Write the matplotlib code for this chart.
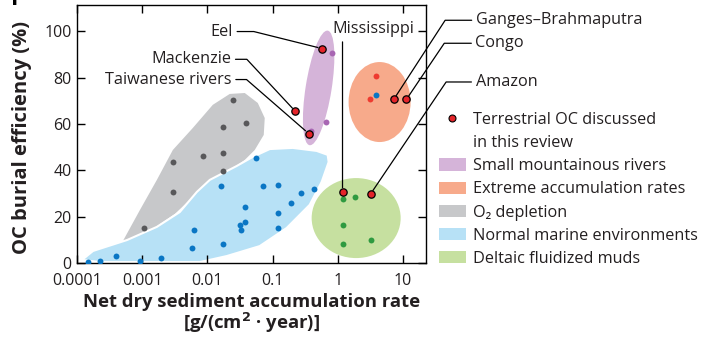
import numpy as np
import matplotlib.pyplot as plt
from matplotlib.patches import Ellipse, Patch, Polygon
from matplotlib.lines import Line2D
from matplotlib.transforms import ScaledTranslation

plt.rcParams['font.family'] = ['Open Sans', 'DejaVu Sans']

# --- data ---
# O2 depletion sites
o2_x = [0.0245, 0.0172, 0.0387, 0.0085, 0.0172, 0.00295, 0.0172, 0.00295, 0.00106]
o2_y = [70.4, 58.7, 60.5, 46.2, 47.5, 43.6, 39.7, 30.7, 15.1]

# normal marine environments
marine_x = [0.000149, 0.000225, 0.00039, 0.00092, 0.00191, 0.00583, 0.00612, 0.0174,
            0.0162, 0.0374, 0.0313, 0.0333, 0.0376, 0.0565, 0.0705, 0.1227, 0.1227,
            0.1227, 0.191, 0.269, 0.425, 3.89]
marine_y = [0.4, 1.0, 3.2, 1.0, 2.3, 6.5, 14.3, 8.3, 33.4, 24.1, 16.4, 14.3, 17.8,
            45.5, 33.3, 33.6, 21.7, 15.1, 25.8, 30.4, 32.1, 72.7]

# deltaic fluidized muds
delta_x = [1.18, 1.83, 1.18, 1.2, 3.18]
delta_y = [27.5, 28.4, 16.4, 8.2, 9.8]

# small mountainous rivers
smr_x = [0.81, 0.65, 0.393]
smr_y = [90.6, 61.0, 57.0]

# extreme accumulation rates
extreme_x = [3.89, 3.07]
extreme_y = [80.9, 70.7]

# terrestrial OC discussed in this review
terr_names = ['Eel', 'Mackenzie', 'Taiwanese rivers', 'Mississippi',
              'Ganges–Brahmaputra', 'Congo', 'Amazon']
terr_x = [0.571, 0.223, 0.357, 1.18, 7.23, 11.3, 3.18]
terr_y = [92.6, 65.5, 55.9, 30.7, 70.7, 70.7, 29.8]

# outlines of the shaded fields
o2_field_x = [0.000506, 0.000923, 0.00168, 0.00295, 0.00597, 0.0121, 0.0220, 0.0374,
              0.0592, 0.0757, 0.0731, 0.0532, 0.0374, 0.0205, 0.00912, 0.00597,
              0.00317, 0.00131]
o2_field_y = [9.5, 22.9, 35.9, 48.8, 58.3, 68.3, 73.0, 73.4, 69.1, 62.6, 55.3, 48.8,
              44.5, 39.3, 33.3, 28.5, 21.2, 13.8]

marine_field_x = [0.000119, 0.000225, 0.00131, 0.00766, 0.0198, 0.0634, 0.164, 0.370,
                  0.565, 0.723, 0.698, 0.473, 0.203, 0.0904, 0.0495, 0.0282, 0.0109,
                  0.00689, 0.00377, 0.00168, 0.000583, 0.000176]
marine_field_y = [1.3, 0.4, 0.4, 0.4, 3.0, 7.3, 15.1, 25.1, 35.0, 43.6, 46.7, 48.4,
                  49.7, 49.2, 45.8, 41.9, 35.9, 30.7, 22.0, 15.6, 9.9, 5.2]

# ellipse centres (x, y)
smr_center = (0.508, 75.6)
extreme_center = (4.37, 69.5)
delta_center = (1.91, 19.4)

x_ticks = [0.0001, 0.001, 0.01, 0.1, 1, 10]
x_ticklabels = ['0.0001', '0.001', '0.01', '0.1', '1', '10']
y_ticks = [0, 20, 40, 60, 80, 100]

legend_labels = ['Terrestrial OC discussed', 'in this review', 'Small mountainous rivers',
                 'Extreme accumulation rates', 'O₂ depletion',
                 'Normal marine environments', 'Deltaic fluidized muds']

# --- styles ---
c_smr, c_smr_dot = '#d5b4d9', '#a866b3'
c_ext, c_ext_dot = '#f7aa8b', '#ee3b30'
c_o2, c_o2_dot = '#c7c8ca', '#58585a'
c_mar, c_mar_dot = '#b7e1f6', '#0a76c4'
c_del, c_del_dot = '#c6e0a0', '#2f9a40'
c_red = '#e4242a'
txt = '#231f20'
fs = 11.7

fig = plt.figure(figsize=(7.16, 3.38), dpi=100)
ax = fig.add_axes([77 / 716, 75 / 338, 349 / 716, 258 / 338])
ax.set_xscale('log')
ax.set_xlim(1e-4, 22.5)
ax.set_ylim(0, 111.4)


def ellipse(center, w_in, h_in, angle, color):
    # size in inches on the page, centre in data coordinates
    tr = fig.dpi_scale_trans + ScaledTranslation(center[0], center[1], ax.transData)
    ax.add_patch(Ellipse((0, 0), w_in, h_in, angle=angle, transform=tr,
                         facecolor=color, edgecolor='none', zorder=1))


ax.add_patch(Polygon(np.column_stack([o2_field_x, o2_field_y]), closed=True,
                     facecolor=c_o2, edgecolor='none', joinstyle='round', zorder=1))
ax.add_patch(Polygon(np.column_stack([marine_field_x, marine_field_y]), closed=True,
                     facecolor=c_mar, edgecolor='white', linewidth=1.5,
                     joinstyle='round', zorder=1.1))
ellipse(smr_center, 0.26, 1.16, -9, c_smr)
ellipse(extreme_center, 0.62, 0.80, 0, c_ext)
ellipse(delta_center, 0.89, 0.80, 0, c_del)

ds = 18
ax.scatter(o2_x, o2_y, s=ds, color=c_o2_dot, linewidths=0, zorder=3)
ax.scatter(marine_x, marine_y, s=ds, color=c_mar_dot, linewidths=0, zorder=3)
ax.scatter(delta_x, delta_y, s=ds, color=c_del_dot, linewidths=0, zorder=3)
ax.scatter(smr_x, smr_y, s=ds, color=c_smr_dot, linewidths=0, zorder=3)
ax.scatter(extreme_x, extreme_y, s=ds, color=c_ext_dot, linewidths=0, zorder=3)
ax.scatter(terr_x, terr_y, s=28, color=c_red, edgecolors='black', linewidths=0.9, zorder=4)

# leader labels: offset in pixels, text alignment, slope of the diagonal part
label_style = {
    'Eel': ((-89, 17), 'right', -14),
    'Mackenzie': ((-64, 52), 'right', -47),
    'Taiwanese rivers': ((-77, 54), 'right', -41),
    'Ganges–Brahmaputra': ((82, 79), 'left', 57),
    'Congo': ((69, 56), 'left', 56),
    'Amazon': ((105, 112), 'left', 56),
}
for name, px, py in zip(terr_names, terr_x, terr_y):
    if name == 'Mississippi':
        ax.annotate('', xy=(px, py), xytext=(0, 150), textcoords='offset pixels',
                    arrowprops=dict(arrowstyle='-', color='black', lw=0.9,
                                    shrinkA=0, shrinkB=3), zorder=2)
        ax.annotate(name, xy=(px, py), xytext=(31, 163), textcoords='offset pixels',
                    ha='center', va='center', fontsize=fs, color=txt,
                    annotation_clip=False)
        continue
    off, ha, ang = label_style[name]
    ax.annotate(name, xy=(px, py), xytext=off, textcoords='offset pixels',
                ha=ha, va='center', fontsize=fs, color=txt,
                annotation_clip=False, zorder=2,
                arrowprops=dict(arrowstyle='-', color='black', lw=0.9,
                                shrinkA=1, shrinkB=3,
                                connectionstyle=f'angle,angleA=0,angleB={ang},rad=0'))

ax.set_xticks(x_ticks)
ax.set_xticklabels(x_ticklabels)
ax.set_yticks(y_ticks)
ax.minorticks_off()
ax.tick_params(direction='in', length=6, width=1, top=True, right=True,
               labelsize=11.5, labelcolor=txt)
ax.tick_params(axis='x', pad=7)
ax.tick_params(axis='y', pad=4)
for s in ax.spines.values():
    s.set_linewidth(1)

ax.set_xlabel('Net dry sediment accumulation rate\n[g/(cm$^\\mathbf{2}$ · year)]',
              fontsize=13.3, fontweight='bold', color=txt, labelpad=3,
              linespacing=1.0)
ax.set_ylabel('OC burial efficiency (%)', fontsize=14.5, fontweight='bold', color=txt)
ax.yaxis.set_label_coords(-0.128, 0.485)

handles = [Line2D([], [], linestyle='none', marker='o', markersize=5,
                  markerfacecolor=c_red, markeredgecolor='black', markeredgewidth=0.8),
           Line2D([], [], linestyle='none'),
           Patch(facecolor=c_smr), Patch(facecolor=c_ext), Patch(facecolor=c_o2),
           Patch(facecolor=c_mar), Patch(facecolor=c_del)]
fig.legend(handles, legend_labels, loc='upper left', bbox_to_anchor=(439 / 716, 1 - 112 / 338),
           frameon=False, fontsize=fs, handlelength=1.65, handleheight=0.8,
           handletextpad=0.45, labelspacing=0.44, borderpad=0, borderaxespad=0,
           labelcolor=txt)

fig.text(11 / 716, 1 - 5 / 338, 'F', fontsize=16, fontweight='bold', va='baseline')

fig.savefig('out.png', dpi=100)
